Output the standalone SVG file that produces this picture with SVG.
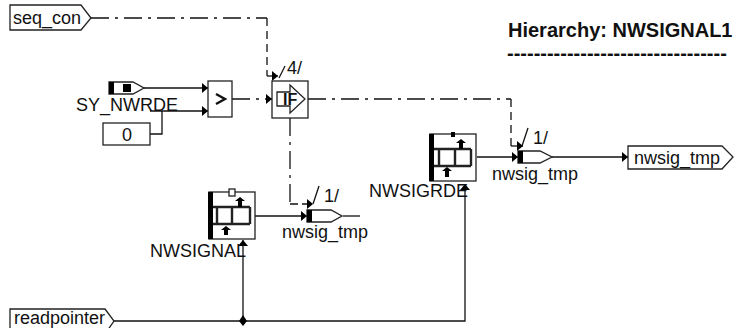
<svg xmlns="http://www.w3.org/2000/svg" width="736" height="328" viewBox="0 0 736 328">
<style>
text{font-family:"Liberation Sans",Arial,sans-serif;font-size:18px;fill:#111}
.h{font-weight:bold;font-size:20px}
.f{font-weight:bold;font-size:16px}
.b{fill:#fff;stroke:#222;stroke-width:1.3}
.w{fill:none;stroke:#111;stroke-width:1.3}
.d{stroke-dasharray:18 6 3 6}
.v{stroke-dasharray:8 5}
.k{fill:#000;stroke:none}
.t{stroke:#222;stroke-width:2.4;fill:none}
</style>
<defs>
<marker id="a" markerUnits="userSpaceOnUse" markerWidth="8" markerHeight="10" refX="7" refY="5" orient="auto"><path d="M1 0L7 5L1 10Z" fill="#000"/></marker>
</defs>
<rect width="736" height="328" fill="#fff"/>
<g id="connectors">
<path class="w d" d="M91 18H267"/>
<path class="w v" d="M267 18V76"/>
<path class="w" d="M267 76H278" marker-end="url(#a)"/>
<path class="w" d="M144 88H208" marker-end="url(#a)"/>
<path class="w" d="M150 111H208" marker-end="url(#a)"/>
<path class="w" d="M150 134H162V111"/>
<path class="w d" d="M232 99H272" marker-end="url(#a)"/>
<path class="w d" d="M308 99H511"/>
<path class="w v" d="M511 99V146"/>
<path class="w" d="M511 146H523" marker-end="url(#a)"/>
<path class="w d" d="M290 118V204"/>
<path class="w" d="M290 204H313" stroke-dasharray="8 4" marker-end="url(#a)"/>
<path class="w" d="M255 216H307" marker-end="url(#a)"/>
<path class="w" d="M343 216H360"/>
<path class="w" d="M477 157H518" marker-end="url(#a)"/>
<path class="w" d="M552 157H628" marker-end="url(#a)"/>
<path class="w" d="M114 321H465V184" marker-end="url(#a)"/>
<path class="w" d="M243 321V240" marker-end="url(#a)"/>
<path class="k" d="M243 315L247 321L243 326L239 321Z"/>
</g>
<g id="seq_con"><path class="b" d="M10 5H81L91 18L81 30H10Z"/><text x="13" y="24">seq_con</text></g>
<g id="readpointer"><path class="b" d="M10 309H105L114 321L105 334H10Z"/><text x="14" y="324">readpointer</text></g>
<g id="nwsig_tmp_out"><path class="b" d="M628 146H722L733 157L722 169H628Z"/><text x="634" y="164">nwsig_tmp</text></g>
<g id="sy_nwrde"><path class="b" d="M109 82H133L144 88L133 94H109Z"/><rect class="k" x="109" y="82" width="5" height="12"/><rect class="k" x="123" y="84" width="8" height="8"/><text x="76" y="111">SY_NWRDE</text></g>
<g id="const0"><rect class="b" x="103" y="123" width="47" height="22"/><text x="127" y="141" text-anchor="middle">0</text></g>
<g id="gt"><rect class="b" x="208" y="81" width="24" height="36"/><path d="M216 94L225 99L216 104" fill="none" stroke="#111" stroke-width="2.4"/></g>
<g id="if"><rect class="b" x="272" y="81" width="36" height="37"/><path class="b" d="M277 92H290V85L305 99L290 113V106H277Z"/><text class="f" x="283" y="105">IF</text><text x="287" y="74">4/</text><path class="w" d="M279 78L285 66"/></g>
<g id="nwsignal"><rect class="b" x="209" y="192" width="46" height="47"/><rect class="k" x="208" y="192" width="5" height="47"/><path class="t" d="M213 207H250M213 224H250M217 207V224M232 207V224M250 207V224"/><path class="k" d="M240 197L245 201H242V207H238V201H235Z"/><path class="k" d="M226 226L231 230H228V235H224V230H221Z"/><rect class="b" x="229" y="189" width="6" height="7"/><text x="150" y="257">NWSIGNAL</text></g>
<g id="nwsigrde"><rect class="b" x="430" y="134" width="46" height="47"/><rect class="k" x="429" y="134" width="5" height="47"/><path class="t" d="M434 149H471M434 166H471M439 149V166M455 149V166M471 149V166"/><path class="k" d="M461 139L466 143H463V149H459V143H456Z"/><path class="k" d="M447 167L452 171H449V177H445V171H442Z"/><rect class="k" x="451" y="132" width="4" height="5"/><text x="369" y="197">NWSIGRDE</text></g>
<g id="probe1"><path class="b" d="M307 210H331L342 216L331 222H307Z"/><rect class="k" x="307" y="210" width="5" height="12"/><text x="282" y="238">nwsig_tmp</text><text x="324" y="202">1/</text><path class="w" d="M313 204L319 186"/></g>
<g id="probe2"><path class="b" d="M518 151H540L552 157L540 163H518Z"/><rect class="k" x="518" y="151" width="5" height="12"/><text x="492" y="180">nwsig_tmp</text><text x="533" y="144">1/</text><path class="w" d="M522 146L528 128"/></g>
<g id="title"><text class="h" x="508" y="37">Hierarchy: NWSIGNAL1</text><text class="h" x="507" y="60">---------------------------------</text></g>
</svg>
